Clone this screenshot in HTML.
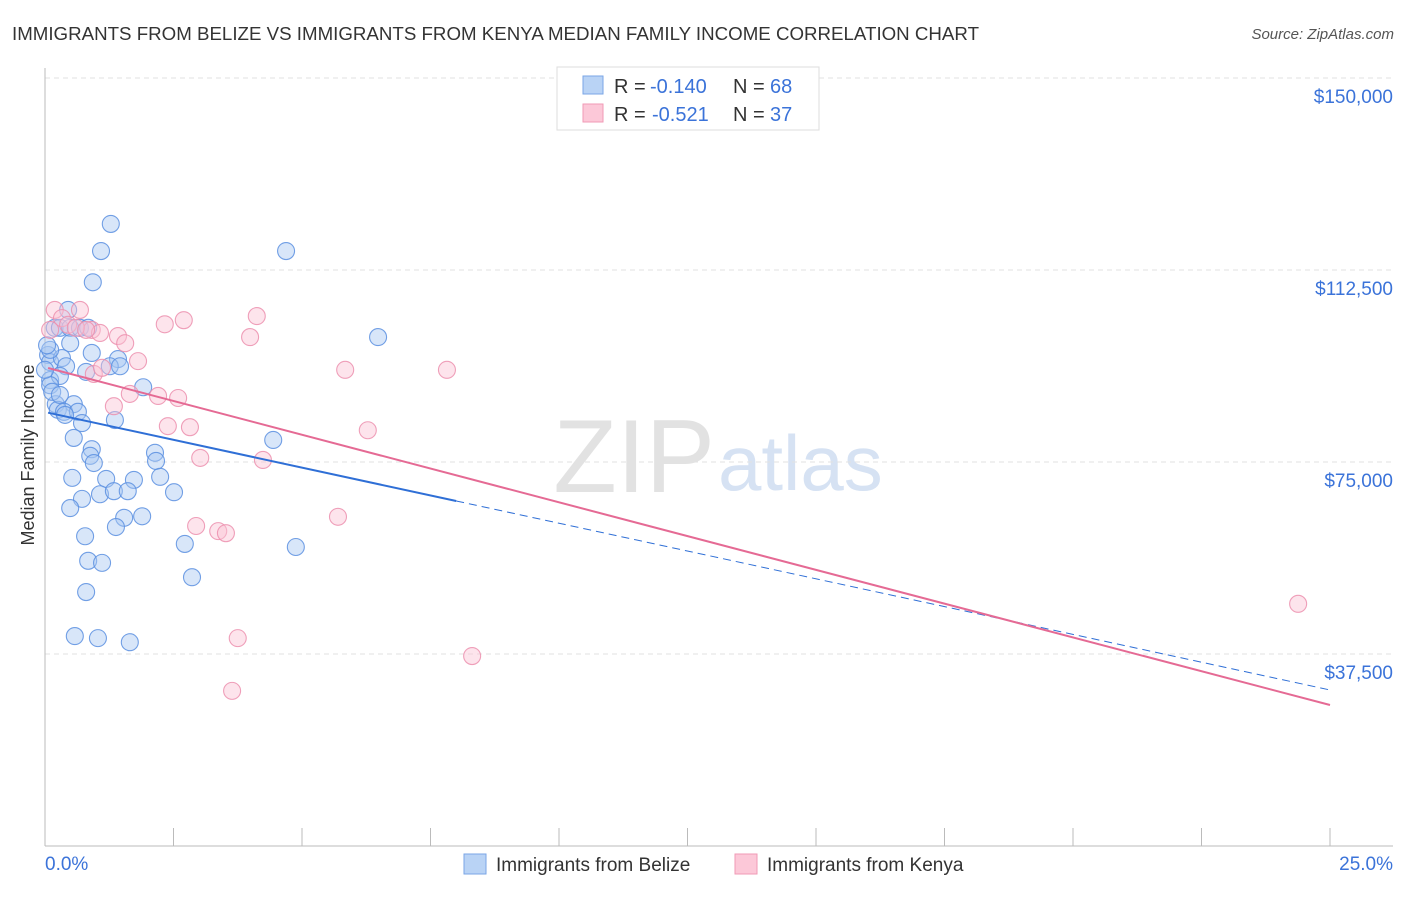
<!DOCTYPE html>
<html><head><meta charset="utf-8">
<style>
body{margin:0;background:#fff;font-family:"Liberation Sans",sans-serif;}
svg text{font-family:"Liberation Sans",sans-serif;}
</style></head>
<body>
<svg id="chart" width="1406" height="892" xmlns="http://www.w3.org/2000/svg">
<text x="12" y="40" font-size="18" fill="#333" textLength="967" lengthAdjust="spacingAndGlyphs">IMMIGRANTS FROM BELIZE VS IMMIGRANTS FROM KENYA MEDIAN FAMILY INCOME CORRELATION CHART</text>
<text x="1394" y="39" font-size="15" fill="#555" font-style="italic" text-anchor="end">Source: ZipAtlas.com</text>
<text x="715" y="492" font-size="104" fill="#e2e2e2" text-anchor="end" font-family="Liberation Serif">ZIP</text>
<text x="718" y="490" font-size="78" fill="#d6e2f3">atlas</text>
<g id="grid"></g>
<g id="axes"></g>
<g id="pts"></g>
<g id="trend"></g>
<text transform="translate(34,455) rotate(-90)" font-size="18" fill="#333" text-anchor="middle">Median Family Income</text>
<g>
<rect x="557" y="67" width="262" height="63" fill="#fff" stroke="#ddd"/>
<rect x="583" y="76" width="20" height="18" fill="#b9d3f5" stroke="#7aa6e6"/>
<rect x="583" y="104" width="20" height="18" fill="#fcc8d8" stroke="#f09ab6"/>
<text y="93" font-size="20" fill="#333"><tspan x="614">R =</tspan><tspan x="650" fill="#3b73d9">-0.140</tspan><tspan x="733">N =</tspan><tspan x="770" fill="#3b73d9">68</tspan></text>
<text y="121" font-size="20" fill="#333"><tspan x="614">R =</tspan><tspan x="652" fill="#3b73d9">-0.521</tspan><tspan x="733">N =</tspan><tspan x="770" fill="#3b73d9">37</tspan></text>
</g>
<g>
<rect x="464" y="854" width="22" height="20" fill="#b9d3f5" stroke="#7aa6e6"/>
<text x="496" y="871" font-size="19" fill="#333">Immigrants from Belize</text>
<rect x="735" y="854" width="22" height="20" fill="#fcc8d8" stroke="#f09ab6"/>
<text x="767" y="871" font-size="19" fill="#333">Immigrants from Kenya</text>
</g>
</svg>
<script>
const yTicks=[37500,75000,112500,150000];
const yTickLabels=["$37,500","$75,000","$112,500","$150,000"];
const xTickLabels=["0.0%","25.0%"];
const belizeX=[1.28,1.09,4.69,0.93,6.48,0.45,0.19,0.29,0.49,0.68,0.84,0.49,0.06,0.91,1.42,0.10,0.33,0.41,1.26,1.46,0.10,0.29,0.80,1.91,0.10,0.21,0.56,0.25,0.37,0.64,1.36,0.72,0.56,4.44,0.91,0.88,2.14,0.95,2.16,0.53,1.19,1.73,2.24,2.51,1.07,1.34,1.61,0.72,0.49,1.89,1.54,1.38,0.78,2.72,4.88,0.84,1.11,2.86,0.80,0.58,1.03,1.65,0.10,0.04,0.14,0.29,0.39,0.00];
const belizeY=[121.5,116.2,116.2,110.1,99.4,104.7,101.2,101.2,101.2,101.2,101.2,98.2,95.9,96.3,95.1,94.5,95.3,93.7,93.7,93.7,91.0,91.8,92.6,89.6,90.0,86.3,86.3,85.2,84.8,84.8,83.2,82.6,79.7,79.3,77.5,76.2,76.8,74.8,75.2,71.9,71.7,71.5,72.1,69.1,68.7,69.3,69.3,67.8,66.0,64.4,64.1,62.3,60.5,59.0,58.4,55.7,55.3,52.5,49.6,41.0,40.6,39.8,96.9,97.8,88.7,88.1,84.2,93.0];
const kenyaX=[0.19,0.33,0.68,0.45,0.91,1.07,1.42,0.60,0.80,1.56,2.33,2.70,4.12,3.99,1.81,5.84,7.82,0.95,1.11,1.65,2.20,2.59,1.34,2.39,2.82,6.28,3.02,4.24,5.70,2.94,3.37,3.52,3.75,8.31,3.64,24.38,0.10];
const kenyaY=[104.7,103.1,104.7,101.8,100.8,100.2,99.6,101.2,100.8,98.2,101.9,102.7,103.5,99.4,94.7,93.0,93.0,92.2,93.4,88.3,87.9,87.5,85.9,82.0,81.8,81.2,75.8,75.4,64.3,62.5,61.5,61.1,40.6,37.1,30.3,47.3,100.8];
const belizeTrend=[84.76,30.47]; const belizeSolidEnd=8.0;
const kenyaTrend=[93.36,27.54];
const NS="http://www.w3.org/2000/svg";
const X=p=>45+p*51.4, Y=v=>846-v*1000/37500*192;
function mk(t,a,parent){const e=document.createElementNS(NS,t);for(const k in a)e.setAttribute(k,a[k]);document.getElementById(parent).appendChild(e);return e;}
yTicks.forEach((v,i)=>{
 const l=mk('line',{x1:45,x2:1393,y1:Y(v/1000),y2:Y(v/1000),stroke:'#e2e2e2','stroke-dasharray':'5,4'},'grid');
 
 
 const t=mk('text',{x:1393,y:Y(v/1000)+25,'font-size':19,fill:'#3b73d9','text-anchor':'end'},'grid');
 t.textContent=yTickLabels[i];
 
 
});
const ax=mk('line',{x1:45,x2:45,y1:68,y2:846,stroke:'#bbb'},'axes');


const bx=mk('line',{x1:45,x2:1393,y1:846,y2:846,stroke:'#bbb'},'axes');


for(let i=0;i<=10;i++){const tk=mk('line',{x1:X(i*2.5),x2:X(i*2.5),y1:828,y2:846,stroke:'#bbb'},'axes');
 
 }
[[X(0),'start'],[1393,'end']].forEach((d,i)=>{const t=mk('text',{x:d[0],y:870,'font-size':19,fill:'#3b73d9','text-anchor':d[1]},'axes');t.textContent=xTickLabels[i];
 
 });
function pts(xs,ys,fill,stroke,name){xs.forEach((x,i)=>{const c=mk('circle',{cx:X(x),cy:Y(ys[i]),r:8.5,fill:fill,'fill-opacity':0.45,stroke:stroke,'stroke-width':1.1,'stroke-opacity':0.85},'pts');
 
 });}
pts(belizeX,belizeY,'#a8c8f2','#5b8fe0','belize-point');
pts(kenyaX,kenyaY,'#fbc3d4','#ec8fae','kenya-point');
const bAt=p=>belizeTrend[0]+(belizeTrend[1]-belizeTrend[0])*p/25;
const l1=mk('line',{x1:X(0.06),y1:Y(bAt(0.06)),x2:X(belizeSolidEnd),y2:Y(bAt(belizeSolidEnd)),stroke:'#2f6fd6','stroke-width':2},'trend');


const l2=mk('line',{x1:X(belizeSolidEnd),y1:Y(bAt(belizeSolidEnd)),x2:X(25),y2:Y(bAt(25)),stroke:'#2f6fd6','stroke-width':1,'stroke-dasharray':'8,5'},'trend');


const l3=mk('line',{x1:X(0.06),y1:Y(kenyaTrend[0]),x2:X(25),y2:Y(kenyaTrend[1]),stroke:'#e56a94','stroke-width':2},'trend');


</script>
</body></html>
